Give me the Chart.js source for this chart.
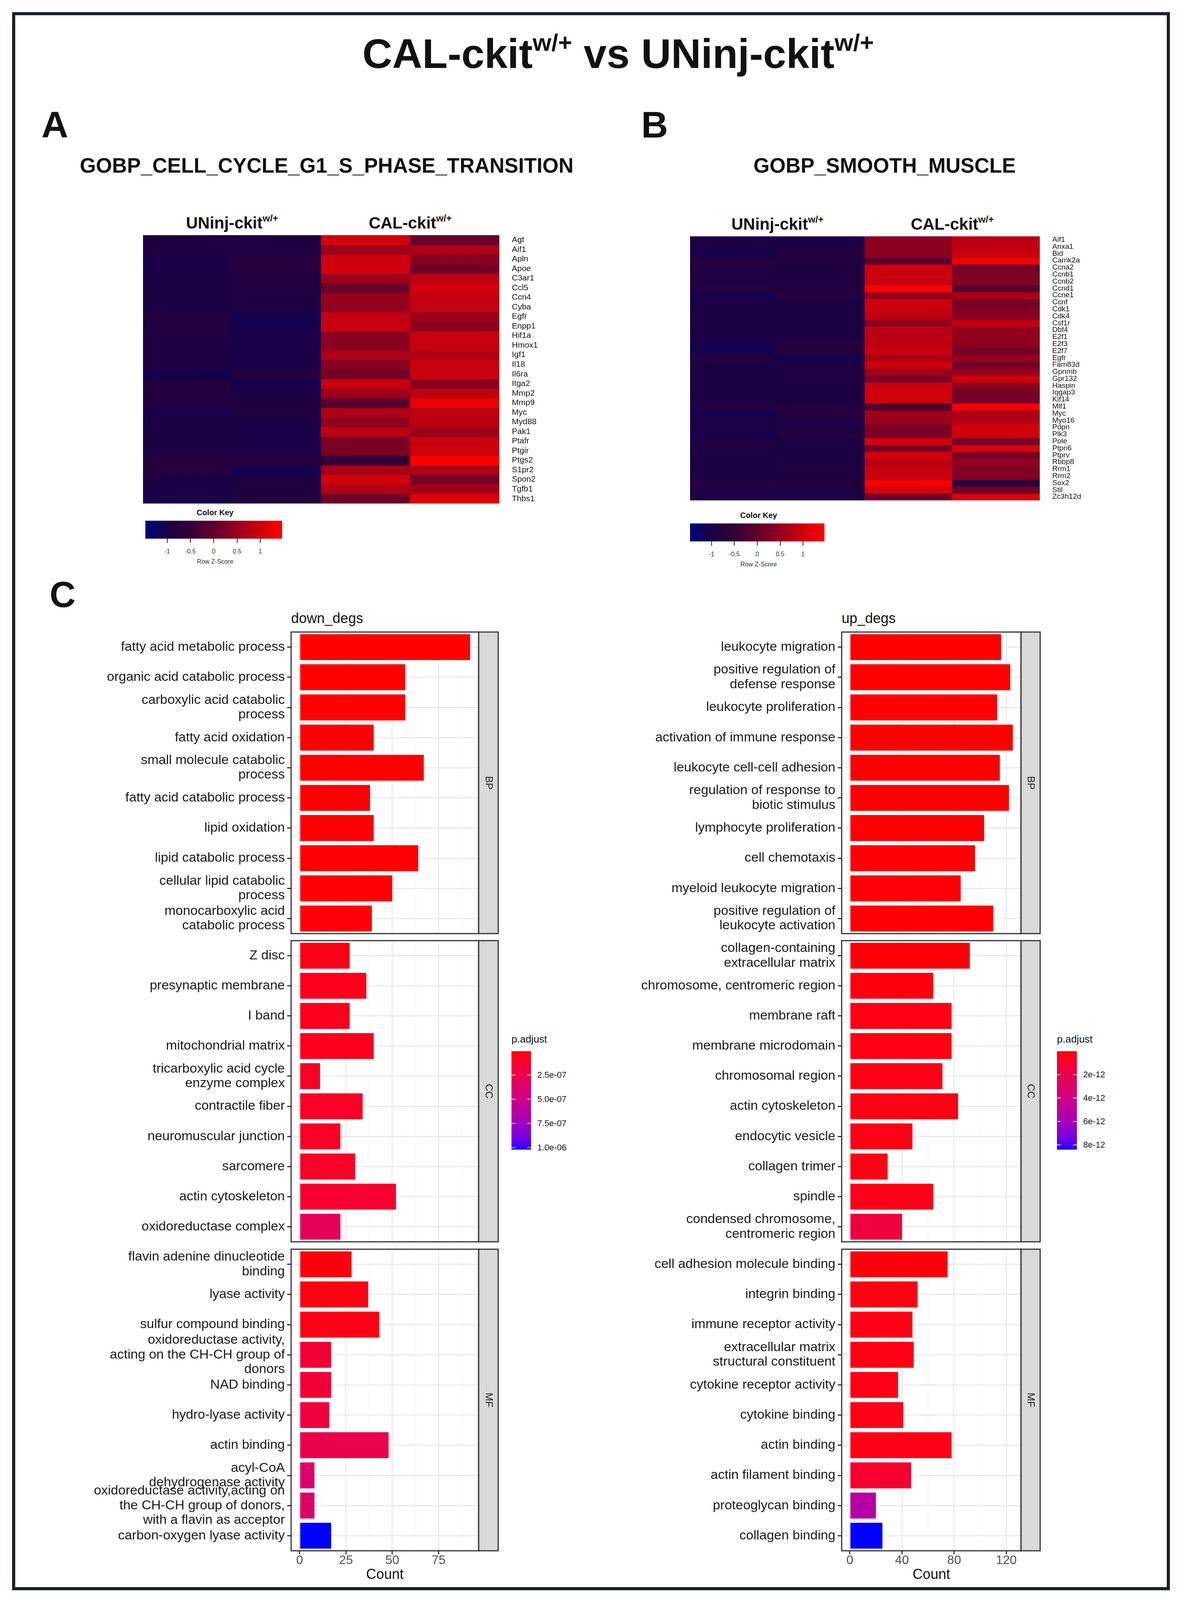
<!DOCTYPE html>
<html>
<head>
<meta charset="utf-8">
<script src="https://cdn.jsdelivr.net/npm/chart.js@4.4.1/dist/chart.umd.min.js"></script>
<style>
  body { margin: 0; background: #fff; font-family: "Liberation Sans", Arial, sans-serif; }
  #page { position: relative; width: 3025px; height: 4111px; overflow: hidden; background: #fff; }
  #frame { position: absolute; left: 31px; top: 31px; width: 2963px; height: 4040px; border: 8px solid #15222e; box-sizing: border-box; }
  canvas { position: absolute; }
  .t { position: absolute; white-space: nowrap; line-height: 1; color: #111; }
  .t sup { font-size: 0.58em; vertical-align: 0; position: relative; top: -0.72em; }
  .b { position: absolute; }
</style>
</head>
<body>
<div id="page"><div id="frame"></div></div>
<script>
Chart.defaults.font.family = '"Liberation Sans", Arial, sans-serif';
Chart.defaults.color = '#1a1a1a';

// ---------- heatmap data (row z-scores) ----------
const hmSamples = ['UNinj-ckit 1', 'UNinj-ckit 2', 'CAL-ckit 1', 'CAL-ckit 2'];
const hmGroups = ['UNinj-ckit', 'CAL-ckit'];

const genesA = ['Agt','Aif1','Apln','Apoe','C3ar1','Ccl5','Ccn4','Cyba','Egfr','Enpp1','Hif1a','Hmox1','Igf1','Il18',
  'Il6ra','Itga2','Mmp2','Mmp9','Myc','Myd88','Pak1','Ptafr','Ptgir','Ptgs2','S1pr2','Spon2','Tgfb1','Thbs1'];
const zA = [
  [-0.9,-0.9,1.05,0.1], [-0.9,-0.9,0.55,0.7], [-1.0,-0.75,1.0,0.4], [-1.0,-0.75,1.05,0.15],
  [-0.95,-0.85,0.55,0.85], [-0.95,-0.85,0.1,1.05], [-0.95,-0.9,0.5,0.9], [-0.95,-0.9,0.45,0.9],
  [-0.85,-1.1,0.9,0.55], [-0.85,-1.1,0.95,0.4], [-0.9,-1.0,0.4,0.95], [-0.9,-1.0,0.38,0.95],
  [-0.9,-1.0,0.7,0.75], [-0.9,-1.0,0.35,0.95], [-1.1,-0.75,0.2,0.95], [-0.8,-1.05,0.95,0.4],
  [-0.85,-1.0,0.55,0.85], [-0.8,-0.9,-0.1,1.25], [-1.05,-0.85,0.7,0.85], [-0.95,-0.95,0.45,0.85],
  [-0.95,-1.0,0.85,0.55], [-0.95,-1.0,0.25,0.95], [-0.95,-1.0,0.25,1.0], [-0.75,-0.7,-0.5,1.4],
  [-0.8,-1.15,0.65,0.7], [-0.95,-0.95,1.0,0.2], [-1.0,-0.9,0.72,0.62], [-1.0,-0.85,0.1,1.15]
];

const genesB = ['Aif1','Anxa1','Bid','Camk2a','Ccna2','Ccnb1','Ccnb2','Ccnd1','Ccne1','Ccnf','Cdk1','Cdk4','Csf1r',
  'Dbf4','E2f1','E2f3','E2f7','Egfr','Fam83d','Gpnmb','Gpr132','Haspin','Iqgap3','Kif14','Mlf1','Myc','Myo16',
  'Pdpn','Plk3','Pole','Ptpn6','Ptprv','Rbbp8','Rrm1','Rrm2','Sox2','Stil','Zc3h12d'];
const zB = [
  [-0.95,-0.95,0.4,0.85], [-0.95,-0.95,0.4,0.85], [-1.1,-0.75,0.38,0.95], [-0.75,-0.85,-0.05,1.3],
  [-0.9,-0.9,0.95,0.2], [-0.9,-0.9,1.0,0.25], [-0.9,-0.9,0.95,0.3], [-0.8,-0.85,1.4,-0.15],
  [-1.1,-0.8,0.5,0.7], [-0.95,-0.95,1.0,0.2], [-0.95,-0.95,0.95,0.3], [-0.95,-0.95,0.85,0.4],
  [-0.95,-0.95,0.45,0.85], [-0.95,-0.95,0.85,0.45], [-0.95,-0.95,0.85,0.45], [-1.1,-0.75,0.85,0.4],
  [-1.1,-0.75,0.95,0.2], [-0.8,-1.15,0.7,0.5], [-0.95,-0.95,1.0,0.15], [-0.95,-0.9,0.55,0.5],
  [-0.95,-0.9,0.25,1.0], [-0.95,-0.95,0.95,0.4], [-0.95,-0.95,1.0,0.2], [-0.95,-0.95,1.0,0.2],
  [-0.85,-0.8,-0.15,1.35], [-1.1,-0.8,0.55,0.7], [-0.95,-0.95,0.55,0.75], [-0.95,-0.95,0.25,1.05],
  [-1.1,-0.75,0.25,1.0], [-0.85,-0.95,1.05,0.2], [-0.9,-0.95,0.2,1.1], [-0.95,-0.95,1.05,0.25],
  [-0.95,-0.95,0.8,0.45], [-0.95,-0.85,0.95,0.3], [-0.95,-0.9,0.95,0.3], [-0.75,-0.85,1.35,-0.55],
  [-0.95,-0.95,1.05,0.15], [-0.95,-0.95,0.2,1.1]
];

const keyTicks = [-1, -0.5, 0, 0.5, 1];
const keyRange = [-1.47, 1.47];

// ---------- enrichment data ----------
const downBpTerms = ['fatty acid metabolic process', 'organic acid catabolic process', ['carboxylic acid catabolic', 'process'],
  'fatty acid oxidation', ['small molecule catabolic', 'process'], 'fatty acid catabolic process', 'lipid oxidation',
  'lipid catabolic process', ['cellular lipid catabolic', 'process'], ['monocarboxylic acid', 'catabolic process']];
const downBpCount = [92, 57, 57, 40, 67, 38, 40, 64, 50, 39];
const downBpP = [2e-9, 5e-9, 5e-9, 8e-9, 6e-9, 1.0e-8, 1.2e-8, 8e-9, 1.0e-8, 1.5e-8];

const downCcTerms = ['Z disc', 'presynaptic membrane', 'I band', 'mitochondrial matrix', ['tricarboxylic acid cycle', 'enzyme complex'],
  'contractile fiber', 'neuromuscular junction', 'sarcomere', 'actin cytoskeleton', 'oxidoreductase complex'];
const downCcCount = [27, 36, 27, 40, 11, 34, 22, 30, 52, 22];
const downCcP = [4.5e-8, 5e-8, 6e-8, 6e-8, 8e-8, 8.5e-8, 8.5e-8, 1.0e-7, 1.2e-7, 2.9e-7];

const downMfTerms = [['flavin adenine dinucleotide', 'binding'], 'lyase activity', 'sulfur compound binding',
  ['oxidoreductase activity,', 'acting on the CH-CH group of', 'donors'], 'NAD binding', 'hydro-lyase activity', 'actin binding',
  ['acyl-CoA', 'dehydrogenase activity'], ['oxidoreductase activity,acting on', 'the CH-CH group of donors,', 'with a flavin as acceptor'],
  'carbon-oxygen lyase activity'];
const downMfCount = [28, 37, 43, 17, 17, 16, 48, 8, 8, 17];
const downMfP = [2.5e-8, 3e-8, 4e-8, 1.5e-7, 1.5e-7, 1.7e-7, 2.4e-7, 3.5e-7, 3.5e-7, 1.02e-6];

const upBpTerms = ['leukocyte migration', ['positive regulation of', 'defense response'], 'leukocyte proliferation',
  'activation of immune response', 'leukocyte cell-cell adhesion', ['regulation of response to', 'biotic stimulus'],
  'lymphocyte proliferation', 'cell chemotaxis', 'myeloid leukocyte migration', ['positive regulation of', 'leukocyte activation']];
const upBpCount = [116, 123, 113, 125, 115, 122, 103, 96, 85, 110];
const upBpP = [1e-14, 2e-14, 3e-14, 1e-14, 5e-14, 4e-14, 6e-14, 8e-14, 1.0e-13, 9e-14];

const upCcTerms = [['collagen-containing', 'extracellular matrix'], 'chromosome, centromeric region', 'membrane raft',
  'membrane microdomain', 'chromosomal region', 'actin cytoskeleton', 'endocytic vesicle', 'collagen trimer', 'spindle',
  ['condensed chromosome,', 'centromeric region']];
const upCcCount = [92, 64, 78, 78, 71, 83, 48, 29, 64, 40];
const upCcP = [1.2e-13, 2e-13, 2.5e-13, 2.5e-13, 3e-13, 2.8e-13, 3.5e-13, 3e-13, 4e-13, 1.5e-12];

const upMfTerms = ['cell adhesion molecule binding', 'integrin binding', 'immune receptor activity',
  ['extracellular matrix', 'structural constituent'], 'cytokine receptor activity', 'cytokine binding', 'actin binding',
  'actin filament binding', 'proteoglycan binding', 'collagen binding'];
const upMfCount = [75, 52, 48, 49, 37, 41, 78, 47, 20, 25];
const upMfP = [1.5e-13, 2.5e-13, 3e-13, 3e-13, 3.5e-13, 3.5e-13, 3e-13, 1.0e-12, 5.2e-12, 8.4e-12];

const downCountTicks = [0, 25, 50, 75];
const upCountTicks = [0, 40, 80, 120];
const downLegendTicks = [2.5e-7, 5e-7, 7.5e-7, 1e-6];
const upLegendTicks = [2e-12, 4e-12, 6e-12, 8e-12];

// ---------- colour helpers ----------
const zStops = [[-1.47,[0,0,128]],[-1.15,[18,0,80]],[-0.85,[32,0,62]],[-0.5,[50,0,55]],
                [0,[95,0,45]],[0.5,[150,0,28]],[1,[205,0,12]],[1.47,[255,0,0]]];
function zColor(z) {
  if (z <= zStops[0][0]) return `rgb(${zStops[0][1].join(',')})`;
  for (let i = 1; i < zStops.length; i++) {
    if (z <= zStops[i][0]) {
      const [z0, c0] = zStops[i - 1], [z1, c1] = zStops[i];
      const f = (z - z0) / (z1 - z0);
      return `rgb(${c0.map((v, k) => Math.round(v + (c1[k] - v) * f)).join(',')})`;
    }
  }
  return 'rgb(255,0,0)';
}

// red -> blue in Lab space like ggplot's gradient
const toLin = c => { c /= 255; return c <= 0.04045 ? c / 12.92 : Math.pow((c + 0.055) / 1.055, 2.4); };
const fromLin = c => { const v = c <= 0.0031308 ? 12.92 * c : 1.055 * Math.pow(c, 1 / 2.4) - 0.055; return Math.round(Math.min(1, Math.max(0, v)) * 255); };
function rgbToLab(rgb) {
  const [r, g, b] = rgb.map(toLin);
  const X = (0.4124 * r + 0.3576 * g + 0.1805 * b) / 0.95047;
  const Y = 0.2126 * r + 0.7152 * g + 0.0722 * b;
  const Z = (0.0193 * r + 0.1192 * g + 0.9505 * b) / 1.08883;
  const f = t => t > 0.008856 ? Math.cbrt(t) : 7.787 * t + 16 / 116;
  const fx = f(X), fy = f(Y), fz = f(Z);
  return [116 * fy - 16, 500 * (fx - fy), 200 * (fy - fz)];
}
function labToRgb([L, a, bb]) {
  const fy = (L + 16) / 116, fx = fy + a / 500, fz = fy - bb / 200;
  const inv = t => t * t * t > 0.008856 ? t * t * t : (t - 16 / 116) / 7.787;
  const X = inv(fx) * 0.95047, Y = inv(fy), Z = inv(fz) * 1.08883;
  const r = 3.2406 * X - 1.5372 * Y - 0.4986 * Z;
  const g = -0.9689 * X + 1.8758 * Y + 0.0415 * Z;
  const b = 0.0557 * X - 0.2040 * Y + 1.0570 * Z;
  return [fromLin(r), fromLin(g), fromLin(b)];
}
const LAB_LO = rgbToLab([255, 0, 0]), LAB_HI = rgbToLab([0, 0, 255]);
function pColor(p, lo, hi) {
  const t = Math.min(1, Math.max(0, (p - lo) / (hi - lo)));
  const lab = LAB_LO.map((v, i) => v + (LAB_HI[i] - v) * t);
  return `rgb(${labToRgb(lab).join(',')})`;
}

// ---------- page helpers ----------
const page = document.getElementById('page');
function put(html, x, y, size, o = {}) {
  const d = document.createElement('div');
  d.className = 't';
  d.innerHTML = html;
  d.style.left = x + 'px';
  d.style.top = y + 'px';
  d.style.fontSize = size + 'px';
  if (o.bold) d.style.fontWeight = 'bold';
  if (o.color) d.style.color = o.color;
  const tx = o.align === 'left' ? '0' : o.align === 'right' ? '-100%' : '-50%';
  d.style.transform = `translate(${tx}, -50%)`;
  page.appendChild(d);
  return d;
}
function block(x, y, w, h, bg) {
  const d = document.createElement('div');
  d.className = 'b';
  Object.assign(d.style, { left: x + 'px', top: y + 'px', width: w + 'px', height: h + 'px', background: bg });
  page.appendChild(d);
  return d;
}
function addCanvas(x, y, w, h) {
  const cv = document.createElement('canvas');
  cv.width = w; cv.height = h;
  cv.style.left = x + 'px'; cv.style.top = y + 'px';
  page.appendChild(cv);
  return cv;
}

// ---------- titles ----------
put('CAL-ckit<sup>w/+</sup> vs UNinj-ckit<sup>w/+</sup>', 1582, 137, 106, { bold: true });
put('A', 106, 319, 95, { bold: true, align: 'left' });
put('B', 1641, 319, 95, { bold: true, align: 'left' });
put('GOBP_CELL_CYCLE_G1_S_PHASE_TRANSITION', 836, 423, 53, { bold: true });
put('GOBP_SMOOTH_MUSCLE', 2264, 423, 53, { bold: true });
put('C', 127, 1522, 92, { bold: true, align: 'left' });

// ---------- heatmaps ----------
function heatmap(genes, z, g) {
  const cv = addCanvas(g.x, g.y, g.areaW + g.labelW, g.areaH);
  new Chart(cv, {
    type: 'bar',
    data: {
      labels: hmSamples,
      datasets: genes.map((gene, i) => ({
        label: gene,
        data: hmSamples.map(() => 1),
        backgroundColor: z[i].map(zColor),
        borderWidth: 0,
        inflateAmount: 0.8,
        barPercentage: 1,
        categoryPercentage: 1
      }))
    },
    options: {
      responsive: false, animation: false, devicePixelRatio: 1,
      layout: { padding: 0 },
      plugins: { legend: { display: false }, tooltip: { enabled: false } },
      scales: {
        x: { stacked: true, display: false },
        y: { stacked: true, display: false, min: 0, max: genes.length, reverse: true },
        genes: {
          type: 'category', labels: genes, position: 'right', offset: true,
          grid: { display: false }, border: { display: false },
          ticks: { autoSkip: false, font: { size: g.fs }, color: '#111', padding: g.pad },
          afterFit: s => { s.width = g.labelW; s.paddingTop = 0; s.paddingBottom = 0; }
        }
      }
    }
  });
  // group headers over the column pairs
  const colW = g.areaW / hmSamples.length;
  hmGroups.forEach((name, k) => {
    put(`${name}<sup>w/+</sup>`, g.x + colW * (2 * k + 1), g.headY, 42, { bold: true });
  });
  // colour key
  const k = g.key;
  const stops = [];
  for (let v = keyRange[0]; v <= keyRange[1] + 1e-9; v += 0.05) {
    stops.push(`${zColor(v)} ${((v - keyRange[0]) / (keyRange[1] - keyRange[0]) * 100).toFixed(2)}%`);
  }
  block(k.x, k.y, k.w, k.h, `linear-gradient(to right, ${stops.join(',')})`);
  put('Color Key', k.x + k.w * 0.51, k.y - 21, 20, { bold: true });
  keyTicks.forEach(v => {
    const px = k.x + (v - keyRange[0]) / (keyRange[1] - keyRange[0]) * k.w;
    block(px - 1, k.y + k.h, 2, 11, '#222');
    put(String(v), px, k.y + k.h + 33, 16, { color: '#333' });
  });
  put('Row Z-Score', k.x + k.w * 0.51, k.y + k.h + 59, 16, { color: '#333' });
}

heatmap(genesA, zA, { x: 366, y: 602, areaW: 912, areaH: 687, labelW: 188, fs: 21, pad: 24, headY: 571,
  key: { x: 372, y: 1333, w: 350, h: 46 } });
heatmap(genesB, zB, { x: 1766, y: 605, areaW: 895, areaH: 676, labelW: 150, fs: 19, pad: 24, headY: 574,
  key: { x: 1766, y: 1340, w: 344, h: 46 } });

// ---------- faceted enrichment bars ----------
const facetBox = {
  id: 'facetBox',
  afterDraw(chart, args, opts) {
    const { ctx, chartArea: a } = chart;
    ctx.save();
    ctx.lineWidth = 3;
    ctx.strokeStyle = '#333';
    ctx.strokeRect(a.left, a.top, a.right - a.left, a.bottom - a.top);
    ctx.fillStyle = '#D9D9D9';
    ctx.fillRect(a.right, a.top, opts.width, a.bottom - a.top);
    ctx.strokeRect(a.right, a.top, opts.width, a.bottom - a.top);
    ctx.translate(a.right + opts.width / 2, (a.top + a.bottom) / 2);
    ctx.rotate(Math.PI / 2);
    ctx.fillStyle = '#1a1a1a';
    ctx.font = '26px "Liberation Sans", Arial, sans-serif';
    ctx.textAlign = 'center';
    ctx.textBaseline = 'middle';
    ctx.fillText(opts.text, 0, 0);
    ctx.restore();
  }
};

function facet(terms, counts, pvals, strip, g, s) {
  const xAxisH = 80;
  const h = 4 + g.panelH + (g.showX ? xAxisH : 4);
  const cv = addCanvas(s.x, g.panelTop - 4, s.w, h);
  const isMajor = c => c.tick && s.major.includes(c.tick.value);
  new Chart(cv, {
    type: 'bar',
    data: {
      labels: terms,
      datasets: [{
        data: counts,
        backgroundColor: pvals.map(p => pColor(p, s.pLo, s.pHi)),
        borderWidth: 0,
        barPercentage: 0.86,
        categoryPercentage: 1
      }]
    },
    options: {
      indexAxis: 'y', responsive: false, animation: false, devicePixelRatio: 1,
      layout: { padding: { left: 0, right: s.w - s.axisW - s.panelW, top: 4, bottom: g.showX ? 0 : 4 } },
      plugins: {
        legend: { display: false }, tooltip: { enabled: false },
        facetBox: { text: strip, width: s.stripW }
      },
      scales: {
        x: {
          type: 'linear', min: s.min, max: s.max,
          afterBuildTicks: ax => { ax.ticks = s.gridVals.map(v => ({ value: v })); },
          afterFit: ax => { ax.height = g.showX ? xAxisH : 0; ax.paddingLeft = 0; ax.paddingRight = 0; },
          grid: {
            color: c => isMajor(c) ? '#EBEBEB' : '#F4F4F4',
            lineWidth: c => isMajor(c) ? 3 : 1.5,
            drawTicks: g.showX, tickLength: 9,
            tickColor: c => isMajor(c) ? '#333' : 'rgba(0,0,0,0)'
          },
          border: { display: false },
          ticks: {
            display: g.showX, autoSkip: false, maxRotation: 0, padding: 0,
            font: { size: 32, lineHeight: 1 }, color: '#4D4D4D',
            callback: v => s.major.includes(v) ? String(v) : ''
          },
          title: { display: g.showX, text: 'Count', font: { size: 36, lineHeight: 1 }, color: '#111', padding: { top: 0, bottom: 0 } }
        },
        y: {
          afterFit: ax => { ax.width = s.axisW; ax.paddingTop = 0; ax.paddingBottom = 0; },
          grid: { offset: false, color: '#EBEBEB', lineWidth: 3, tickLength: 10, tickColor: '#333' },
          border: { display: false },
          ticks: { autoSkip: false, padding: 6, font: { size: 34, lineHeight: 1.1 }, color: '#1a1a1a' }
        }
      }
    },
    plugins: [facetBox]
  });
}

const rows = [
  { panelTop: 1618, panelH: 772, showX: false },
  { panelTop: 2408, panelH: 771, showX: false },
  { panelTop: 3198, panelH: 772, showX: true }
];

function side(sets, ticks, legendTicks, digits, geo) {
  const allCounts = sets.flatMap(d => d[1]);
  const allP = sets.flatMap(d => d[2]);
  const maxC = Math.max(...allCounts);
  const step = ticks[1] - ticks[0];
  const s = Object.assign({}, geo, {
    min: -0.05 * maxC, max: 1.05 * maxC,
    major: ticks,
    gridVals: ticks.concat(ticks.map(v => v + step / 2)).filter(v => v <= 1.05 * maxC).sort((a, b) => a - b),
    pLo: Math.min(...allP), pHi: Math.max(...allP)
  });
  ['BP', 'CC', 'MF'].forEach((name, i) => facet(sets[i][0], sets[i][1], sets[i][2], name, rows[i], s));
  put(geo.title, geo.x + geo.axisW, 1583, 36, { align: 'left' });

  // p.adjust colour bar
  const L = geo.legend;
  const stops = [];
  for (let k = 0; k <= 40; k++) {
    const p = s.pLo + (s.pHi - s.pLo) * k / 40;
    stops.push(`${pColor(p, s.pLo, s.pHi)} ${(k / 40 * 100).toFixed(1)}%`);
  }
  block(L.x, L.y, L.w, L.h, `linear-gradient(to bottom, ${stops.join(',')})`);
  put('p.adjust', L.x, L.y - 31, 26, { align: 'left' });
  const fmt = v => {
    const [m, e] = v.toExponential(digits).split('e');
    const n = Math.abs(+e);
    return m + 'e' + (+e < 0 ? '-' : '+') + String(n).padStart(2, '0');
  };
  legendTicks.forEach(v => {
    const py = L.y + (v - s.pLo) / (s.pHi - s.pLo) * L.h;
    block(L.x, py - 1, L.w * 0.2, 2, 'rgba(255,255,255,0.8)');
    block(L.x + L.w * 0.8, py - 1, L.w * 0.2, 2, 'rgba(255,255,255,0.8)');
    put(fmt(v), L.x + L.w + 16, py, 22, { align: 'left', color: '#1a1a1a' });
  });
}

side([[downBpTerms, downBpCount, downBpP], [downCcTerms, downCcCount, downCcP], [downMfTerms, downMfCount, downMfP]],
  downCountTicks, downLegendTicks, 1,
  { title: 'down_degs', x: 60, w: 1225, axisW: 685, panelW: 480, stripW: 50,
    legend: { x: 1309, y: 2691, w: 50, h: 252 } });

side([[upBpTerms, upBpCount, upBpP], [upCcTerms, upCcCount, upCcP], [upMfTerms, upMfCount, upMfP]],
  upCountTicks, upLegendTicks, 0,
  { title: 'up_degs', x: 1500, w: 1170, axisW: 654, panelW: 459, stripW: 49,
    legend: { x: 2705, y: 2691, w: 51, h: 252 } });
</script>
</body>
</html>
